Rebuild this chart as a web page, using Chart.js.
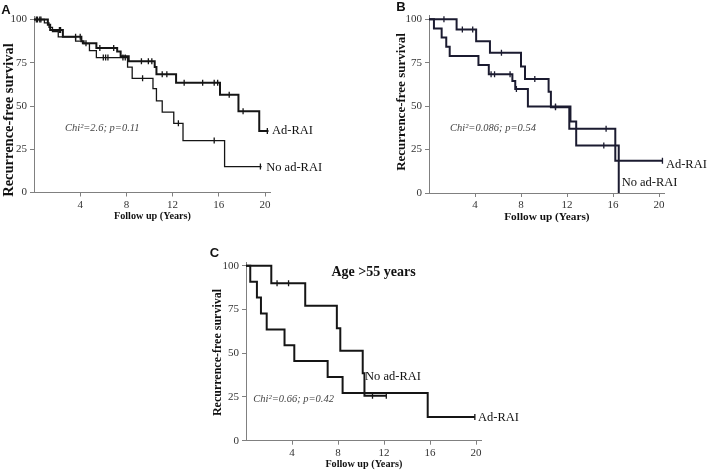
<!DOCTYPE html>
<html><head><meta charset="utf-8">
<script src="https://cdn.jsdelivr.net/npm/chart.js@4.4.0/dist/chart.umd.min.js"></script>
<style>
html,body{margin:0;padding:0;background:#fff;}
#wrap{position:relative;width:708px;height:471px;overflow:hidden;background:#fff;}
canvas{position:absolute;}
</style></head><body>
<div id="wrap">
<canvas id="cA" width="345" height="235" style="left:0px;top:0px;width:345px;height:235px"></canvas>
<canvas id="cB" width="328" height="235" style="left:380px;top:0px;width:328px;height:235px"></canvas>
<canvas id="cC" width="330" height="231" style="left:195px;top:240px;width:330px;height:231px"></canvas>
</div>
<script>
// ---------- data ----------
const seriesNames = ['Ad-RAI', 'No ad-RAI'];
const yTicks = [0, 25, 50, 75, 100];
const xTicks = [4, 8, 12, 16, 20];

// Panel A
const aAdT = [0, 1.2, 1.4, 2.5, 4.1, 4.3, 5.4, 7.2, 7.5, 8.2, 10.45, 10.6, 12.3, 16.1, 17.7, 19.5, 20.3];
const aAdS = [100, 97, 94, 90, 87.5, 86.3, 83.5, 81.5, 78.7, 75.8, 72.5, 68.3, 63.5, 56.5, 47, 35.5, 35.5];
const aAdC = [0.3, 0.5, 2.2, 2.3, 3.6, 4.0, 4.5, 5.7, 6.9, 9.3, 9.9, 10.2, 11.1, 11.5, 13.0, 14.6, 15.6, 15.9, 16.9, 18.1, 20.2];
const aNoT = [0, 0.9, 1.3, 1.6, 2.1, 3.6, 4.2, 4.8, 5.4, 8.1, 8.5, 10.3, 10.6, 11.1, 12.1, 12.9, 16.5, 19.7];
const aNoS = [100, 98, 95.5, 93, 90, 87.5, 86, 82, 78, 72.5, 66, 60, 53, 46.5, 40, 30, 15, 15];
const aNoC = [0.2, 0.6, 6.0, 6.2, 6.4, 7.7, 7.9, 9.4, 12.5, 15.6, 19.6];

// Panel B
const bAdT = [0, 2.4, 4.1, 5.3, 8.0, 8.35, 10.4, 10.6, 12.2, 16.2, 20.3];
const bAdS = [100, 94.1, 87.4, 80.7, 72.8, 65.6, 58.3, 49.3, 37.0, 18.5, 18.5];
const bAdC = [1.3, 2.9, 3.8, 6.3, 9.2, 11.0, 15.4, 20.3];
const bNoT = [0, 0.43, 1.1, 1.5, 1.8, 4.3, 5.2, 7.25, 7.5, 8.6, 12.3, 12.8, 16.5, 16.5];
const bNoS = [100, 94.7, 89.5, 84.2, 78.9, 73.7, 68.4, 64.5, 59.8, 49.8, 41.2, 27.3, 0, 0];
const bNoC = [5.4, 5.7, 7.05, 7.6, 11.0, 15.2];

// Panel C
const cAdT = [0, 0.37, 0.95, 1.3, 1.8, 3.35, 4.2, 7.1, 8.4, 15.8, 19.9];
const cAdS = [100, 90.9, 81.8, 72.7, 63.6, 54.5, 45.5, 36.4, 27.3, 13.6, 13.6];
const cAdC = [19.9];
const cNoT = [0, 2.2, 5.15, 7.9, 8.2, 10.15, 10.3, 12.2];
const cNoS = [100, 90, 77.1, 64.3, 51.4, 38.6, 25.7, 25.7];
const cNoC = [2.7, 3.7, 11.0, 12.2];

// ---------- helpers ----------
const SERIF = "'Liberation Serif', 'Times New Roman', serif";
const SANS = "'Liberation Sans', Arial, sans-serif";
const AXIS = '#808080';

function steps(T, S) { return T.map((t, i) => ({ x: t, y: S[i] })); }
function survAt(T, S, t) { let v = S[0]; for (let i = 0; i < T.length; i++) if (T[i] <= t) v = S[i]; return v; }
function cens(T, S, C) { return C.map(t => ({ x: t, y: survAt(T, S, t) })); }

const textPlugin = {
  id: 'texts',
  afterDraw(chart, args, opts) {
    const { ctx } = chart; const xs = chart.scales.x, ys = chart.scales.y;
    (opts.items || []).forEach(it => {
      ctx.save();
      ctx.font = it.font; ctx.fillStyle = it.color || '#111';
      ctx.textAlign = it.align || 'left'; ctx.textBaseline = 'middle';
      ctx.translate(xs.getPixelForValue(it.t), ys.getPixelForValue(it.s));
      if (it.rot) ctx.rotate(it.rot);
      ctx.fillText(it.text, 0, 0);
      ctx.restore();
    });
  }
};

function panel(id, g, lines, texts) {
  const ds = [];
  lines.forEach(l => {
    ds.push({ data: steps(l.T, l.S), stepped: true, borderColor: l.color, borderWidth: l.w, pointRadius: 0, fill: false, label: l.name });
    ds.push({ data: cens(l.T, l.S, l.C), showLine: false, pointStyle: 'line', rotation: 90, pointRadius: 3, borderColor: l.color, borderWidth: 1.3, label: l.name + ' censored' });
  });
  new Chart(document.getElementById(id), {
    type: 'line',
    data: { datasets: ds },
    plugins: [textPlugin],
    options: {
      responsive: false, animation: false, devicePixelRatio: 1,
      layout: { padding: { left: 0, top: g.padTop, right: g.padRight, bottom: g.padBottom } },
      plugins: { legend: { display: false }, tooltip: { enabled: false }, texts: { items: texts } },
      scales: {
        x: {
          type: 'linear', min: 0, max: 20.5,
          afterBuildTicks: s => { s.ticks = xTicks.map(v => ({ value: v })); },
          afterFit: s => { s.height = g.xH; },
          ticks: { font: { family: SERIF, size: 11 }, color: '#333', padding: 2, maxRotation: 0 },
          grid: { drawOnChartArea: false, tickLength: 4, color: AXIS },
          border: { color: AXIS, width: 1 },
          title: { display: true, text: 'Follow up (Years)', font: { family: SERIF, size: g.xtSize, weight: 'bold' }, color: '#111', padding: 0 }
        },
        y: {
          min: 0, max: 102,
          afterBuildTicks: s => { s.ticks = yTicks.map(v => ({ value: v })); },
          afterFit: s => { s.width = g.yW; },
          ticks: { font: { family: SERIF, size: 11 }, color: '#333', padding: 3 },
          grid: { drawOnChartArea: false, tickLength: 4, color: AXIS },
          border: { color: AXIS, width: 1 }
        }
      }
    }
  });
}

const LBL = '12.5px ' + SERIF;
const CHI = 'italic 10.5px ' + SERIF;
const LET = 'bold 13px ' + SANS;
const BLK = '#151515';

panel('cA', { padTop: 16.04, padRight: 74.2, padBottom: 12.5, xH: 30, yW: 34, xtSize: 10.2 },
  [ { name: seriesNames[0], T: aAdT, S: aAdS, C: aAdC, color: BLK, w: 2 },
    { name: seriesNames[1], T: aNoT, S: aNoS, C: aNoC, color: BLK, w: 1.3 } ],
  [ { text: 'A', t: -2.42, s: 105.5, font: LET, align: 'center' },
    { text: 'Recurrence-free survival', t: -2.16, s: 41.9, font: 'bold 14.5px ' + SERIF, align: 'center', rot: -Math.PI / 2 },
    { text: 'Chi²=2.6; p=0.11', t: 2.68, s: 37.4, font: CHI, color: '#444' },
    { text: seriesNames[0], t: 20.6, s: 35.5, font: LBL },
    { text: seriesNames[1], t: 20.1, s: 14.6, font: LBL } ]);

panel('cB', { padTop: 15.8, padRight: 43.25, padBottom: 11, xH: 31, yW: 49, xtSize: 11.3 },
  [ { name: seriesNames[0], T: bAdT, S: bAdS, C: bAdC, color: '#1b1b30', w: 2 },
    { name: seriesNames[1], T: bNoT, S: bNoS, C: bNoC, color: '#1b1b30', w: 2 } ],
  [ { text: 'B', t: -2.43, s: 106.8, font: LET, align: 'center' },
    { text: 'Recurrence-free survival', t: -2.37, s: 52.4, font: 'bold 13px ' + SERIF, align: 'center', rot: -Math.PI / 2 },
    { text: 'Chi²=0.086; p=0.54', t: 1.83, s: 37.4, font: CHI, color: '#444' },
    { text: seriesNames[0], t: 20.6, s: 16.5, font: LBL },
    { text: seriesNames[1], t: 16.75, s: 5.9, font: LBL } ]);

panel('cC', { padTop: 22.2, padRight: 43.25, padBottom: 0.3, xH: 30, yW: 51, xtSize: 10.2 },
  [ { name: seriesNames[0], T: cAdT, S: cAdS, C: cAdC, color: BLK, w: 2 },
    { name: seriesNames[1], T: cNoT, S: cNoS, C: cNoC, color: BLK, w: 2 } ],
  [ { text: 'C', t: -2.74, s: 106.9, font: LET, align: 'center' },
    { text: 'Age >55 years', t: 11.09, s: 96.4, font: 'bold 14px ' + SERIF, align: 'center' },
    { text: 'Recurrence-free survival', t: -2.48, s: 50.4, font: 'bold 12px ' + SERIF, align: 'center', rot: -Math.PI / 2 },
    { text: 'Chi²=0.66; p=0.42', t: 0.64, s: 23.8, font: CHI, color: '#444' },
    { text: seriesNames[1], t: 10.35, s: 36.4, font: LBL },
    { text: seriesNames[0], t: 20.17, s: 13.0, font: LBL } ]);
</script>
</body></html>
